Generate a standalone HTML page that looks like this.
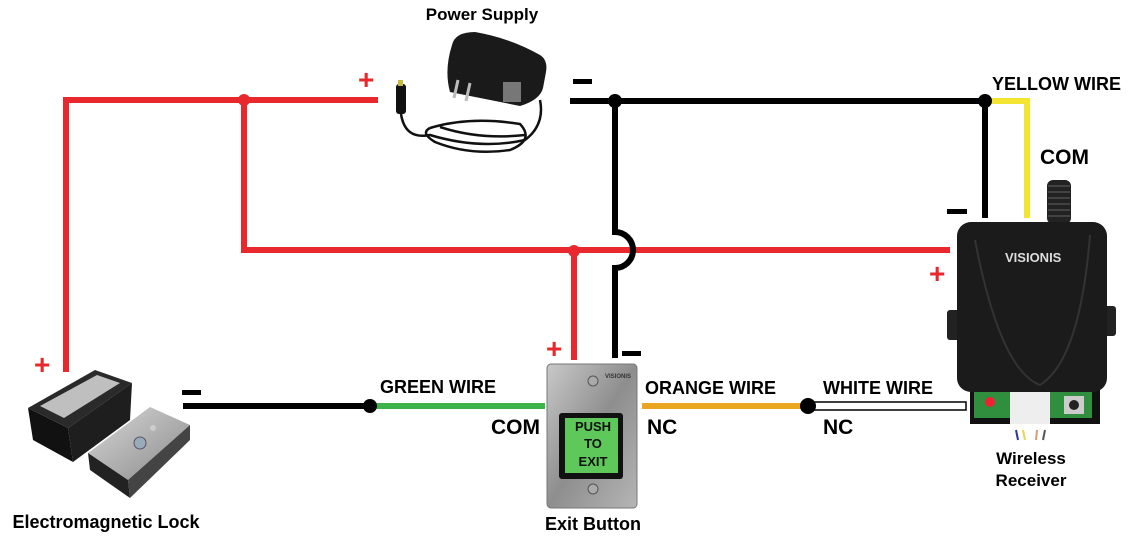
<!DOCTYPE html>
<html><head><meta charset="utf-8"><style>
body{margin:0;background:#fff}
svg{display:block}
text{font-family:"Liberation Sans",sans-serif;font-weight:bold}
</style></head><body>
<svg width="1131" height="536" viewBox="0 0 1131 536" xmlns="http://www.w3.org/2000/svg">
<defs>
<linearGradient id="pl" x1="0" y1="0" x2="1" y2="1"><stop offset="0" stop-color="#c9c9c9"/><stop offset=".5" stop-color="#8e8e8e"/><stop offset="1" stop-color="#b5b5b5"/></linearGradient>
<linearGradient id="mt" x1="0" y1="0" x2="1" y2="1"><stop offset="0" stop-color="#d8d8d8"/><stop offset="1" stop-color="#8a8a8a"/></linearGradient>
</defs>
<g stroke="#e8282c" stroke-width="6" fill="none">
<path d="M66 372 V100 H378"/>
<path d="M244 100 V250 H950"/>
<path d="M574 251 V360"/>
</g>
<circle cx="244" cy="100" r="6" fill="#e8282c"/>
<circle cx="574" cy="251" r="6" fill="#e8282c"/>
<g stroke="#000" stroke-width="6" fill="none">
<path d="M570 101 H985"/>
<path d="M615 101 V232 A18 18 0 0 1 615 268 V358"/>
<path d="M985 101 V218"/>
<path d="M183 406 H370"/>
</g>
<path d="M985 101 H1027 V218" stroke="#f4e532" stroke-width="6" fill="none"/>
<circle cx="615" cy="101" r="7" fill="#000"/>
<circle cx="985" cy="101" r="7" fill="#000"/>
<path d="M370 406 H545" stroke="#3cb44a" stroke-width="6"/>
<path d="M642 406 H808" stroke="#eaa521" stroke-width="6"/>
<rect x="808" y="402" width="158" height="8" fill="#fff" stroke="#000" stroke-width="1.5"/>
<circle cx="370" cy="406" r="7" fill="#000"/>
<circle cx="808" cy="406" r="8" fill="#000"/>
<g fill="#e8282c" font-size="28"><text x="358" y="89">+</text><text x="929" y="283">+</text><text x="34" y="374">+</text><text x="546" y="358">+</text></g>
<g fill="#000"><rect x="573" y="79" width="19" height="5"/><rect x="947" y="209" width="20" height="5"/><rect x="182" y="390" width="19" height="5"/><rect x="622" y="351" width="19" height="5"/></g>
<!-- power supply -->
<path d="M452 45 Q455 32 475 32 Q510 38 540 55 Q548 60 546 72 L543 88 Q540 100 520 106 L450 92 Q444 70 452 45 Z" fill="#1a1a1a"/>
<rect x="503" y="82" width="18" height="20" fill="#777"/>
<path d="M458 80 l-4 18 M470 83 l-4 18" stroke="#bbb" stroke-width="3"/>
<rect x="396" y="84" width="10" height="30" rx="3" fill="#111"/>
<rect x="398" y="80" width="5" height="6" fill="#c8b840"/>
<g stroke="#111" stroke-width="2.5" fill="none">
<path d="M401 114 Q405 140 430 135 Q480 150 525 140 Q545 125 540 100"/>
<path d="M430 128 Q470 116 520 124 Q535 140 510 150 Q470 156 435 142 Q420 133 430 128"/>
<path d="M440 127 Q480 140 525 135"/>
</g>
<!-- receiver -->
<rect x="1047" y="180" width="24" height="44" rx="6" fill="#222"/>
<g stroke="#555" stroke-width="1.2"><path d="M1048 186h22M1048 192h22M1048 198h22M1048 204h22M1048 210h22M1048 216h22"/></g>
<rect x="947" y="310" width="14" height="30" rx="3" fill="#222"/>
<rect x="1102" y="306" width="14" height="30" rx="3" fill="#222"/>
<rect x="970" y="388" width="130" height="36" fill="#111"/>
<rect x="974" y="392" width="36" height="26" fill="#2f8f3e"/>
<rect x="1050" y="392" width="42" height="26" fill="#2f8f3e"/>
<rect x="1010" y="392" width="40" height="32" fill="#eee"/>
<circle cx="990" cy="402" r="5" fill="#e23"/>
<rect x="1064" y="396" width="20" height="18" fill="#ccc"/><circle cx="1074" cy="405" r="5" fill="#222"/>
<rect x="957" y="222" width="150" height="170" rx="14" fill="#1b1b1b"/>
<path d="M975 240 Q1000 370 1040 385 Q1080 360 1090 235" fill="none" stroke="#333" stroke-width="2"/>
<text x="1005" y="262" font-size="13" fill="#ddd">VISIONIS</text>
<g stroke-width="2"><path d="M1016 430 l2 10" stroke="#2a3a9a"/><path d="M1023 430 l2 10" stroke="#e9d84a"/><path d="M1037 430 l-1 10" stroke="#d97"/><path d="M1045 430 l-2 10" stroke="#555"/></g>
<!-- exit button -->
<rect x="547" y="364" width="90" height="144" rx="4" fill="url(#pl)" stroke="#777"/>
<circle cx="593" cy="381" r="5" fill="#aaa" stroke="#555"/>
<circle cx="593" cy="489" r="5" fill="#aaa" stroke="#555"/>
<text x="605" y="378" font-size="6" fill="#333">VISIONIS</text>
<rect x="559" y="413" width="64" height="66" rx="3" fill="#111"/>
<rect x="565" y="418" width="53" height="55" fill="#5fc85a"/>
<g font-size="13" fill="#111" text-anchor="middle"><text x="593" y="431">PUSH</text><text x="593" y="448">TO</text><text x="593" y="466">EXIT</text></g>
<!-- lock -->
<path d="M28 408 L95 370 L132 383 L68 428 Z" fill="#2a2a2a"/>
<path d="M40 406 L97 375 L120 383 L64 418 Z" fill="#bfbfbf"/>
<path d="M28 408 L68 428 L73 462 L33 440 Z" fill="#111"/>
<path d="M68 428 L132 383 L130 420 L73 462 Z" fill="#1e1e1e"/>
<path d="M88 453 L150 407 L190 425 L128 480 Z" fill="url(#mt)"/>
<path d="M88 453 L128 480 L130 498 L90 470 Z" fill="#222"/>
<path d="M128 480 L190 425 L190 440 L130 498 Z" fill="#444"/>
<circle cx="140" cy="443" r="6" fill="#9ab" stroke="#556"/>
<circle cx="153" cy="428" r="3" fill="#ccc"/>
<g fill="#000">
<text x="482" y="20" font-size="17" text-anchor="middle">Power Supply</text>
<text x="992" y="90" font-size="18">YELLOW WIRE</text>
<text x="1040" y="164" font-size="21">COM</text>
<text x="380" y="393" font-size="18">GREEN WIRE</text>
<text x="491" y="434" font-size="21">COM</text>
<text x="645" y="394" font-size="18">ORANGE WIRE</text>
<text x="647" y="434" font-size="21">NC</text>
<text x="823" y="394" font-size="18">WHITE WIRE</text>
<text x="823" y="434" font-size="21">NC</text>
<text x="1031" y="464" font-size="17" text-anchor="middle">Wireless</text>
<text x="1031" y="486" font-size="17" text-anchor="middle">Receiver</text>
<text x="593" y="530" font-size="18" text-anchor="middle">Exit Button</text>
<text x="106" y="528" font-size="18" text-anchor="middle">Electromagnetic Lock</text>
</g>
</svg>
</body></html>
